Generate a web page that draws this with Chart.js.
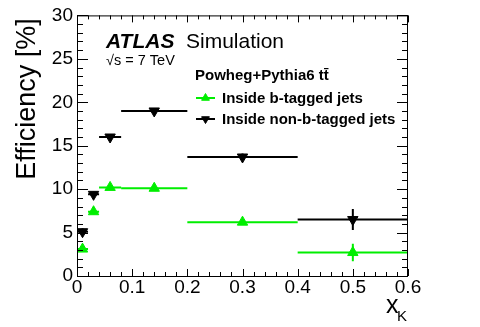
<!DOCTYPE html>
<html>
<head>
<meta charset="utf-8">
<script src="https://cdn.jsdelivr.net/npm/chart.js@4"></script>
<style>
  html, body { margin: 0; padding: 0; background: #fff; }
  canvas { display: block; }
</style>
</head>
<body>
<canvas id="effChart" width="480" height="327"></canvas>
<script>
// x_K bins
const binLow = [0, 0.02, 0.04, 0.08, 0.2, 0.4];
const binHigh = [0.02, 0.04, 0.08, 0.2, 0.4, 0.6];
const binCenter = [0.01, 0.03, 0.06, 0.14, 0.3, 0.5];

// efficiencies [%]
const effB = [3.1, 7.4, 10.2, 10.1, 6.2, 2.7];
const errB = [0.3, 0.3, 0.2, 0.2, 0.2, 1.0];
const effNonB = [5.1, 9.4, 16.0, 19.0, 13.7, 6.5];
const errNonB = [0.4, 0.3, 0.3, 0.3, 0.4, 1.2];

const yTicks = [0, 5, 10, 15, 20, 25, 30];
const xTicks = [0, 0.1, 0.2, 0.3, 0.4, 0.5, 0.6];

const green = "#00ee00";
const FONT = "'Liberation Sans', Arial, sans-serif";

const toPoints = (ys, errs) => binCenter.map((x, i) => ({ x, y: ys[i], lo: binLow[i], hi: binHigh[i], err: errs[i] }));

// horizontal bin bars + vertical stat errors, drawn under the markers
const errorBars = {
  id: "errorBars",
  beforeDatasetsDraw(chart) {
    const { ctx, scales: { x, y } } = chart;
    ctx.save();
    chart.data.datasets.forEach(ds => {
      ctx.strokeStyle = ds.borderColor;
      ctx.lineWidth = 2;
      ds.data.forEach(p => {
        const py = y.getPixelForValue(p.y);
        const px = x.getPixelForValue(p.x);
        ctx.beginPath();
        ctx.moveTo(x.getPixelForValue(p.lo), py);
        ctx.lineTo(x.getPixelForValue(p.hi), py);
        ctx.moveTo(px, y.getPixelForValue(p.y - p.err));
        ctx.lineTo(px, y.getPixelForValue(p.y + p.err));
        ctx.stroke();
      });
    });
    ctx.restore();
  }
};

// ROOT-style frame with inward ticks on all sides, titles and legend
const frame = {
  id: "frame",
  afterDraw(chart) {
    const { ctx, chartArea: a, scales: { x, y } } = chart;
    ctx.save();
    ctx.strokeStyle = "#000";
    ctx.lineWidth = 1;
    ctx.strokeRect(a.left + 0.5, a.top + 0.5, a.right - a.left - 1, a.bottom - a.top);

    ctx.beginPath();
    for (let v = 0; v <= 30.001; v += 1) {
      const py = Math.round(y.getPixelForValue(v)) + 0.5;
      const len = v % 5 === 0 ? 11 : 6;
      ctx.moveTo(a.left, py); ctx.lineTo(a.left + len, py);
      ctx.moveTo(a.right, py); ctx.lineTo(a.right - len, py);
    }
    for (let i = 0; i <= 30; i++) {
      const px = Math.round(x.getPixelForValue(i * 0.02)) + 0.5;
      const len = i % 5 === 0 ? 7 : 4;
      ctx.moveTo(px, a.bottom); ctx.lineTo(px, a.bottom - len);
      ctx.moveTo(px, a.top); ctx.lineTo(px, a.top + len);
    }
    ctx.stroke();

    // axis titles
    ctx.fillStyle = "#000";
    ctx.save();
    ctx.translate(35, 99);
    ctx.rotate(-Math.PI / 2);
    ctx.font = "27px " + FONT;
    ctx.textAlign = "center";
    ctx.textBaseline = "alphabetic";
    ctx.fillText("Efficiency [%]", 0, 0);
    ctx.restore();

    ctx.textAlign = "left";
    ctx.font = "25px " + FONT;
    ctx.fillText("x", 386, 313);
    ctx.font = "15px " + FONT;
    ctx.fillText("K", 397, 321);

    // ATLAS label
    ctx.font = "italic bold 21px " + FONT;
    ctx.fillText("ATLAS", 106, 48);
    ctx.font = "21px " + FONT;
    ctx.fillText("Simulation", 186, 48);
    ctx.font = "14.5px " + FONT;
    ctx.fillText("\u221As = 7 TeV", 106, 65);

    // legend
    ctx.font = "bold 15px " + FONT;
    ctx.fillText("Powheg+Pythia6 t\u0074\u0304", 195, 80);
    const entries = [
      { ds: chart.data.datasets[0], yPos: 98 },
      { ds: chart.data.datasets[1], yPos: 119 }
    ];
    entries.forEach(e => {
      ctx.strokeStyle = e.ds.borderColor;
      ctx.fillStyle = e.ds.pointBackgroundColor;
      ctx.lineWidth = 2;
      ctx.beginPath();
      ctx.moveTo(196, e.yPos); ctx.lineTo(215, e.yPos);
      ctx.stroke();
      ctx.lineWidth = 1;
      Chart.helpers.drawPoint(ctx, { pointStyle: "triangle", radius: 4.5, rotation: e.ds.pointRotation, borderWidth: 1 }, 205.5, e.yPos);
      ctx.fillStyle = "#000";
      ctx.font = "bold 15px " + FONT;
      ctx.fillText(e.ds.label, 222, e.yPos + 5);
    });
    ctx.restore();
  }
};

new Chart(document.getElementById("effChart"), {
  type: "scatter",
  data: {
    datasets: [
      {
        label: "Inside b-tagged jets",
        data: toPoints(effB, errB),
        borderColor: green,
        pointBackgroundColor: green,
        pointBorderColor: green,
        pointStyle: "triangle",
        pointRotation: 0,
        pointRadius: 6,
        pointHoverRadius: 6
      },
      {
        label: "Inside non-b-tagged jets",
        data: toPoints(effNonB, errNonB),
        borderColor: "#000",
        pointBackgroundColor: "#000",
        pointBorderColor: "#000",
        pointStyle: "triangle",
        pointRotation: 180,
        pointRadius: 6,
        pointHoverRadius: 6
      }
    ]
  },
  options: {
    responsive: false,
    animation: false,
    devicePixelRatio: 1,
    layout: { padding: { top: 15, right: 72, left: 0, bottom: 0 } },
    plugins: { legend: { display: false }, tooltip: { enabled: false } },
    scales: {
      x: {
        type: "linear",
        min: 0,
        max: 0.6,
        afterFit: s => { s.height = 51; },
        afterBuildTicks: s => { s.ticks = xTicks.map(value => ({ value })); },
        grid: { display: false, drawTicks: false },
        border: { display: false },
        ticks: {
          padding: 0,
          color: "#000",
          font: { family: FONT, size: 19 },
          maxRotation: 0,
          callback: v => v === 0 ? "0" : v.toFixed(1)
        }
      },
      y: {
        min: 0,
        max: 30,
        afterFit: s => { s.width = 77; },
        afterBuildTicks: s => { s.ticks = yTicks.map(value => ({ value })); },
        grid: { display: false, drawTicks: false },
        border: { display: false },
        ticks: {
          padding: 4,
          color: "#000",
          font: { family: FONT, size: 19 }
        }
      }
    }
  },
  plugins: [errorBars, frame]
});
</script>
</body>
</html>
